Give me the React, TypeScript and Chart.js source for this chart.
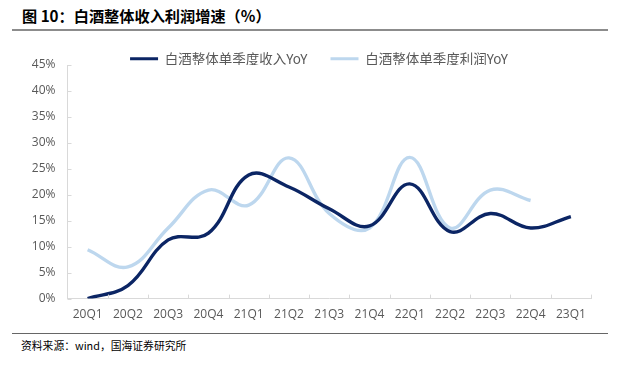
import React, { useEffect, useRef } from "react";
import { Chart, registerables } from "chart.js";

Chart.register(...registerables);

const categories = ["20Q1", "20Q2", "20Q3", "20Q4", "21Q1", "21Q2", "21Q3", "21Q4", "22Q1", "22Q2", "22Q3", "22Q4", "23Q1"];
const revenueYoY = [0, 2.5, 11.3, 12.6, 23.8, 21.5, 17.3, 14.0, 22.1, 12.9, 16.4, 13.6, 15.8];
const profitYoY = [9.4, 6.1, 13.6, 20.9, 18.0, 27.1, 16.4, 13.6, 27.2, 13.6, 20.9, 18.9, null];
const seriesNames = ["白酒整体单季度收入YoY", "白酒整体单季度利润YoY"];
const yMin = 0;
const yMax = 45;
const yStep = 5;

const titleText = "图 10：白酒整体收入利润增速（%）";
const sourceText = "资料来源：wind，国海证券研究所";

const AXIS_COLOR = "#d9d9d9";

const innerTicks = {
  id: "innerTicks",
  afterDraw(chart: any) {
    const { ctx } = chart;
    const xs = chart.scales.x;
    const ys = chart.scales.y;
    ctx.save();
    ctx.strokeStyle = AXIS_COLOR;
    ctx.lineWidth = 1;
    ctx.beginPath();
    ys.ticks.forEach((_t: any, i: number) => {
      const py = Math.round(ys.getPixelForTick(i)) + 0.5;
      ctx.moveTo(xs.left, py);
      ctx.lineTo(xs.left + 4, py);
    });
    const n = categories.length;
    const step = (xs.right - xs.left) / n;
    for (let k = 1; k <= n; k++) {
      const px = Math.round(xs.left + k * step) + 0.5;
      ctx.moveTo(px, ys.bottom);
      ctx.lineTo(px, ys.bottom - 4);
    }
    ctx.stroke();
    ctx.restore();
  },
};

function ChartView() {
  const ref = useRef<HTMLCanvasElement | null>(null);
  useEffect(() => {
    if (!ref.current) return;
    const chart = new Chart(ref.current, {
      type: "line",
      data: {
        labels: categories,
        datasets: [
          {
            label: seriesNames[0],
            data: revenueYoY,
            borderColor: "#0b2564",
            backgroundColor: "#0b2564",
            borderWidth: 3.4,
            pointRadius: 0,
            tension: 0.4,
            yAxisID: "y",
          },
          {
            label: seriesNames[1],
            data: profitYoY as any,
            borderColor: "#bdd7ee",
            backgroundColor: "#bdd7ee",
            borderWidth: 3.4,
            pointRadius: 0,
            tension: 0.4,
            yAxisID: "y",
          },
        ],
      },
      options: {
        animation: false,
        responsive: false,
        maintainAspectRatio: false,
        layout: { padding: { left: 8, right: 10, top: 0, bottom: 0 } },
        plugins: {
          tooltip: { enabled: false },
          legend: {
            display: true,
            position: "top",
            maxHeight: 36,
            labels: {
              color: "#595959",
              font: { family: "'Noto Sans CJK SC', 'Noto Sans', sans-serif", size: 13.5 },
              boxWidth: 28,
              boxHeight: 3,
              padding: 23,
              generateLabels: (c: any) => {
                const items = Chart.defaults.plugins.legend.labels.generateLabels(c);
                return items.map((it: any) => ({ ...it, lineWidth: 0, fillStyle: it.strokeStyle }));
              },
            },
          },
        },
        scales: {
          x: {
            type: "category",
            offset: true,
            grid: { display: true, drawOnChartArea: false, drawTicks: false, offset: true },
            border: { display: true, color: AXIS_COLOR, width: 1 },
            ticks: {
              color: "#595959",
              font: { family: "'Open Sans', sans-serif", size: 12 },
              padding: 9,
              maxRotation: 0,
              autoSkip: false,
            },
          },
          y: {
            position: "left",
            min: yMin,
            max: yMax,
            grid: { display: true, drawOnChartArea: false, drawTicks: false },
            border: { display: true, color: AXIS_COLOR, width: 1 },
            ticks: {
              stepSize: yStep,
              color: "#595959",
              font: { family: "'Open Sans', sans-serif", size: 12 },
              padding: 12,
              callback: (v: any) => v + "%",
            },
            afterFit: (s: any) => {
              s.width = 59.5;
            },
          },
          yRight: {
            position: "right",
            display: true,
            min: yMin,
            max: yMax,
            grid: { display: false, drawOnChartArea: false, drawTicks: false },
            border: { display: false },
            ticks: { display: false },
            afterFit: (s: any) => {
              s.width = 39;
            },
          },
        },
      },
      plugins: [innerTicks],
    });
    return () => chart.destroy();
  }, []);
  return (
    <canvas
      ref={ref}
      width={640}
      height={302}
      style={{ position: "absolute", left: 0, top: 29, width: 640, height: 302 }}
    />
  );
}

export default function App() {
  return (
    <div style={{ position: "absolute", left: 0, top: 0, width: 620, height: 365, background: "#fff", overflow: "hidden" }}>
      <div
        style={{
          position: "absolute",
          left: 22,
          top: 6,
          fontFamily: "'Noto Sans CJK SC', sans-serif",
          fontWeight: 700,
          fontSize: 15.2,
          lineHeight: "19px",
          color: "#000",
          whiteSpace: "nowrap",
        }}
      >
        {titleText}
      </div>
      <div style={{ position: "absolute", left: 12, top: 29, width: 596, height: 2, background: "#8c8c8c" }} />
      <ChartView />
      <div style={{ position: "absolute", left: 12, top: 333, width: 596, height: 1, background: "#666" }} />
      <div
        style={{
          position: "absolute",
          left: 21,
          top: 337,
          fontFamily: "'Noto Sans CJK SC', sans-serif",
          fontSize: 10.8,
          lineHeight: "16px",
          color: "#000",
          whiteSpace: "nowrap",
        }}
      >
        {sourceText}
      </div>
    </div>
  );
}
